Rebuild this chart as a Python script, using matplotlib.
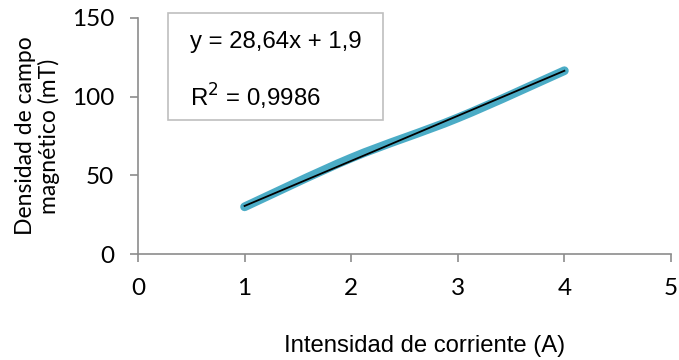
import matplotlib.pyplot as plt
import numpy as np
from matplotlib.path import Path
from matplotlib.patches import PathPatch, Rectangle

# datos medidos
corriente = [1, 2, 3, 4]
campo = [30, 61, 86.5, 116.5]

# línea de tendencia (de Excel)
pendiente = 28.64
intercepto = 1.9
ecuacion = "y = 28,64x + 1,9"
r2 = "0,9986"

x_ticks = [0, 1, 2, 3, 4, 5]
y_ticks = [0, 50, 100, 150]

gris = "#8C8C8C"
teal = "#4BACC6"

fig = plt.figure(figsize=(6.79, 3.6), dpi=100)
ax = fig.add_axes([0.2032, 0.2944, 0.785, 0.6556])

# curva suavizada tipo Excel (Bezier Catmull-Rom entre puntos)
pts = np.column_stack([corriente, campo]).astype(float)
verts = [pts[0]]
codes = [Path.MOVETO]
for i in range(len(pts) - 1):
    p0 = pts[i - 1] if i > 0 else pts[i]
    p1 = pts[i]
    p2 = pts[i + 1]
    p3 = pts[i + 2] if i + 2 < len(pts) else pts[i + 1]
    c1 = p1 + (p2 - p0) / 6
    c2 = p2 - (p3 - p1) / 6
    verts += [c1, c2, p2]
    codes += [Path.CURVE4] * 3
ax.add_patch(PathPatch(Path(verts, codes), fill=False, edgecolor=teal,
                       lw=6.3, capstyle="round", joinstyle="round", zorder=2))

xt = np.array([corriente[0], corriente[-1]])
ax.plot(xt, pendiente * xt + intercepto, color="black", lw=1.3, zorder=3)

ax.set_xlim(0, 5)
ax.set_ylim(0, 150)
ax.set_xticks(x_ticks)
ax.set_yticks(y_ticks)
ax.set_xticklabels([str(v) for v in x_ticks], family="Lato", fontsize=17.5)
ax.set_yticklabels([str(v) for v in y_ticks], family="Lato", fontsize=17.5)

for s in ["top", "right"]:
    ax.spines[s].set_visible(False)
for s in ["left", "bottom"]:
    ax.spines[s].set_color(gris)
    ax.spines[s].set_linewidth(1.2)
ax.tick_params(axis="both", direction="out", length=6, width=1.2, color=gris)
ax.tick_params(axis="x", pad=11)
ax.tick_params(axis="y", pad=11)

fig.text(0.626, 0.04, "Intensidad de corriente (A)", family="Liberation Sans",
         fontsize=17.2, ha="center", va="center")
fig.text(0.055, 0.622, "Densidad de campo\nmagnético (mT)", family="Lato",
         fontsize=16.5, ha="center", va="center", rotation=90, linespacing=1.1)

# cuadro de la ecuación
fig.patches.append(Rectangle((168 / 679, 1 - 120 / 360), 215 / 679, 107 / 360,
                             transform=fig.transFigure, fill=True, facecolor="white",
                             edgecolor="#BFBFBF", lw=1.2, zorder=5))
fig.text(190 / 679, 1 - 42 / 360, ecuacion, family="Liberation Sans",
         fontsize=17.3, ha="left", va="center", zorder=6)
fig.text(190 / 679, 1 - 97 / 360, "R$^{2}$ = " + r2, family="Liberation Sans",
         fontsize=17.3, ha="left", va="center", zorder=6)

fig.savefig("out.png", dpi=100)
